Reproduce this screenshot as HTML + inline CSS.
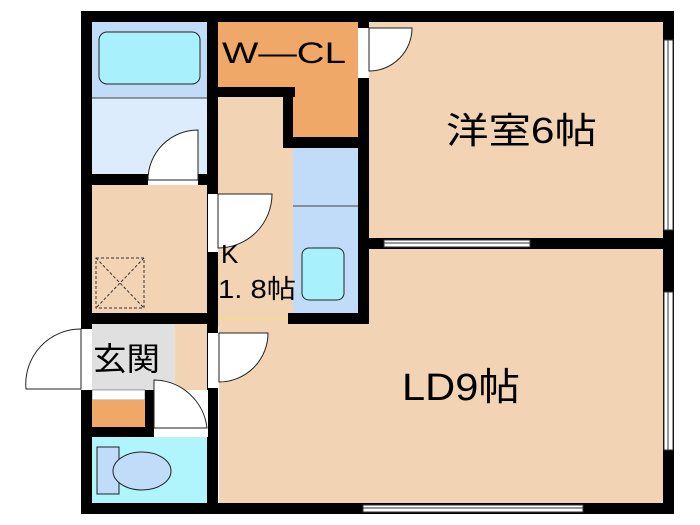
<!DOCTYPE html>
<html><head><meta charset="utf-8"><style>
html,body{margin:0;padding:0;background:#fff;}
svg{display:block;}
text{font-family:"Liberation Sans","Noto Sans CJK JP",sans-serif;fill:#000;}
</style></head><body>
<svg width="700" height="525" viewBox="0 0 700 525" xmlns="http://www.w3.org/2000/svg">
<rect x="92" y="22" width="116" height="76" fill="#c0dcf8"/>
<rect x="92" y="98" width="116" height="77" fill="#dcecfc"/>
<line x1="92" y1="98" x2="208" y2="98" stroke="#444" stroke-width="1"/>
<rect x="99" y="32" width="101" height="52" rx="8" fill="#a8f0fc" stroke="#222" stroke-width="1"/>
<rect x="92" y="185" width="116" height="128" fill="#f2d3b4"/>
<rect x="96" y="258" width="48" height="50" fill="none" stroke="#333" stroke-width="1" stroke-dasharray="3,2"/>
<line x1="96" y1="258" x2="144" y2="308" stroke="#333" stroke-dasharray="3,2"/>
<line x1="144" y1="258" x2="96" y2="308" stroke="#333" stroke-dasharray="3,2"/>
<rect x="218" y="22" width="140" height="66" fill="#f0a868"/>
<rect x="293" y="88" width="65" height="50" fill="#f0a868"/>
<rect x="218" y="97" width="75" height="230" fill="#f2d3b4"/>
<rect x="293" y="148" width="65" height="165" fill="#c0dcf8"/>
<line x1="293" y1="206" x2="358" y2="206" stroke="#444" stroke-width="1"/>
<rect x="302" y="248" width="42" height="52" rx="7" fill="#a8f0fc" stroke="#222" stroke-width="1"/>
<rect x="369" y="22" width="294" height="216" fill="#f2d3b4"/>
<rect x="369" y="249" width="294" height="254" fill="#f2d3b4"/>
<rect x="219" y="324" width="150" height="179" fill="#f2d3b4"/>
<line x1="218" y1="318" x2="288" y2="318" stroke="#f8e070" stroke-width="1"/>
<rect x="92" y="324" width="83" height="66" fill="#e0e0e0"/>
<rect x="175" y="324" width="33" height="106" fill="#f2d3b4"/>
<rect x="92" y="390" width="53" height="10" fill="#fff" stroke="#444" stroke-width="0.5"/>
<rect x="92" y="400" width="53" height="27" fill="#f0a868"/>
<rect x="92" y="437" width="116" height="66" fill="#b0f4fc"/>
<rect x="97" y="447" width="22" height="47" fill="#c0dcf8" stroke="#222"/>
<ellipse cx="142" cy="471" rx="29" ry="19" fill="#c0dcf8" stroke="#222"/>
<g fill="#000">
<rect x="81" y="11" width="593" height="11"/>
<rect x="81" y="11" width="11" height="503"/>
<rect x="81" y="503" width="593" height="11"/>
<rect x="663" y="11" width="11" height="503"/>
<rect x="207" y="11" width="11" height="503"/>
<rect x="358" y="11" width="11" height="313"/>
<rect x="81" y="174" width="137" height="11"/>
<rect x="81" y="313" width="137" height="11"/>
<rect x="218" y="87" width="77" height="10"/>
<rect x="283" y="87" width="10" height="61"/>
<rect x="283" y="137" width="80" height="11"/>
<rect x="288" y="313" width="81" height="11"/>
<rect x="369" y="238" width="305" height="11"/>
<rect x="81" y="427" width="127" height="10"/>
<rect x="145" y="390" width="9" height="47"/>
</g>
<g fill="#fff" stroke="#222" stroke-width="1">
<rect x="148" y="174" width="50" height="11" stroke="none"/>
<path d="M148 180 A50 50 0 0 1 198 130 L198 180 Z"/>
<rect x="208" y="194" width="10" height="58" stroke="none"/>
<path d="M218 194 L272 194 A54 54 0 0 1 218 248 Z"/>
<rect x="358" y="28" width="11" height="50" stroke="none"/>
<path d="M369 28 L412 28 A43 43 0 0 1 369 71 Z"/>
<rect x="208" y="333" width="11" height="55" stroke="none"/>
<path d="M219 333 L268 333 A49 49 0 0 1 219 382 Z"/>
<rect x="81" y="329" width="11" height="61" stroke="none"/>
<path d="M81 329 A55 55 0 0 0 26 389 L81 389 Z"/>
<rect x="154" y="390" width="54" height="47" stroke="none"/>
<path d="M154 380 A54 54 0 0 1 207 428 L154 428 Z"/>
</g>
<g fill="#fff" stroke="#333" stroke-width="1">
<rect x="664" y="40" width="9" height="190"/>
<line x1="668" y1="40" x2="668" y2="230"/>
<rect x="384" y="240" width="146" height="7"/>
<line x1="384" y1="243" x2="530" y2="243"/>
<rect x="664" y="292" width="9" height="158"/>
<line x1="668" y1="292" x2="668" y2="450"/>
<rect x="363" y="505" width="220" height="7"/>
<line x1="363" y1="508" x2="583" y2="508"/>
</g>
<text x="222" y="63" font-size="30" textLength="124" lengthAdjust="spacingAndGlyphs">W—CL</text>
<text x="446" y="143" font-size="36" textLength="151" lengthAdjust="spacingAndGlyphs">洋室6帖</text>
<text x="402" y="400" font-size="38" textLength="118" lengthAdjust="spacingAndGlyphs">LD9帖</text>
<text x="221" y="263" font-size="26">K</text>
<text x="218" y="298" font-size="26" textLength="78" lengthAdjust="spacingAndGlyphs">1. 8帖</text>
<text x="93" y="370" font-size="32" textLength="67" lengthAdjust="spacingAndGlyphs">玄関</text>
</svg>
</body></html>
